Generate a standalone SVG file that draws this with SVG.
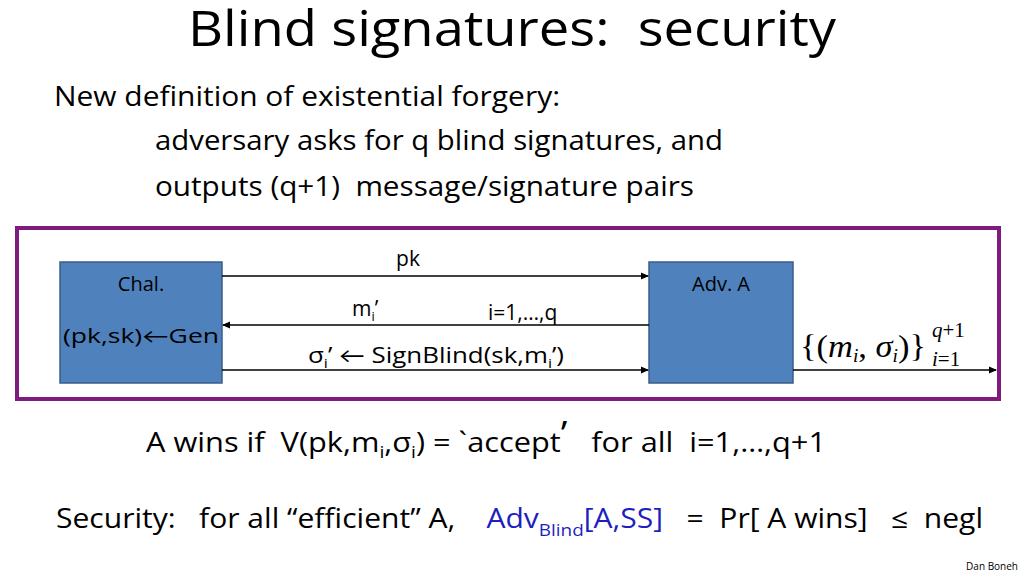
<svg xmlns="http://www.w3.org/2000/svg" width="1024" height="576" viewBox="0 0 1024 576">
<style>
text{font-family:"Open Sans",Lato,"DejaVu Sans",sans-serif;fill:#000;white-space:pre}
.m{font-family:"Liberation Serif","DejaVu Serif",serif;font-style:italic}
.node{fill:#4f81bd;stroke:#385d8a;stroke-width:1.5}
.c line{stroke:#000;stroke-width:1.5;marker-end:url(#ah)}
</style>
<defs><marker id="ah" markerWidth="8" markerHeight="8" refX="7" refY="4" orient="auto" markerUnits="userSpaceOnUse"><path d="M0,0.5 L8,4 L0,7.5z" fill="#000"/></marker></defs>
<rect width="1024" height="576" fill="#fff"/>
<text x="188" y="46" font-size="50" textLength="648" lengthAdjust="spacingAndGlyphs">Blind signatures:  security</text>
<text x="54" y="106" font-size="27" textLength="506" lengthAdjust="spacingAndGlyphs">New definition of existential forgery:</text>
<text x="155" y="150" font-size="27" textLength="568" lengthAdjust="spacingAndGlyphs">adversary asks for q blind signatures, and</text>
<text x="155" y="196" font-size="27" textLength="539" lengthAdjust="spacingAndGlyphs">outputs (q+1)  message/signature pairs</text>
<rect x="17" y="228" width="982" height="171" fill="none" stroke="#7f1a7f" stroke-width="4"/>
<g id="chal"><rect class="node" x="60" y="262" width="162" height="121"/>
<text x="141" y="291" font-size="20" text-anchor="middle">Chal.</text>
<text x="141" y="343" font-size="20" text-anchor="middle" textLength="156" lengthAdjust="spacingAndGlyphs">(pk,sk)←Gen</text></g>
<g id="adv"><rect class="node" x="649" y="262" width="144" height="121"/>
<text x="721" y="291" font-size="20" text-anchor="middle">Adv. A</text></g>
<g class="c">
<line x1="222" y1="276" x2="648" y2="276"/>
<line x1="649" y1="325" x2="223" y2="325"/>
<line x1="222" y1="370" x2="648" y2="370"/>
<line x1="793" y1="370" x2="996" y2="370"/>
</g>
<text x="408" y="266" font-size="21" text-anchor="middle">pk</text>
<text x="352" y="316" font-size="21">m<tspan font-size="13" dy="5">i</tspan><tspan dy="-5">’</tspan></text>
<text x="488" y="320" font-size="21">i=1,…,q</text>
<text x="308" y="363" font-size="21" textLength="256" lengthAdjust="spacingAndGlyphs">σ<tspan font-size="13" dy="5">i</tspan><tspan dy="-5">’ ← SignBlind(sk,m</tspan><tspan font-size="13" dy="5">i</tspan><tspan dy="-5">’)</tspan></text>
<text x="800" y="357" font-size="32" class="m" textLength="126" lengthAdjust="spacingAndGlyphs"><tspan font-style="normal">{(</tspan>m<tspan font-size="18" dy="5">i</tspan><tspan dy="-5" font-style="normal">, </tspan>σ<tspan font-size="18" dy="5">i</tspan><tspan dy="-5" font-style="normal">)}</tspan></text>
<text x="932" y="337" font-size="21" class="m">q<tspan font-style="normal">+1</tspan></text>
<text x="932" y="366" font-size="21" class="m">i<tspan font-style="normal">=1</tspan></text>
<text x="146" y="452" font-size="27" textLength="680" lengthAdjust="spacingAndGlyphs">A wins if  V(pk,m<tspan font-size="17" dy="6">i</tspan><tspan dy="-6">,σ</tspan><tspan font-size="17" dy="6">i</tspan><tspan dy="-6">) = `accept</tspan><tspan font-size="34" dy="-6">’</tspan><tspan dy="6">   for all  i=1,…,q+1</tspan></text>
<text x="56" y="528" font-size="27" textLength="927" lengthAdjust="spacingAndGlyphs">Security:   for all “efficient” A,    <tspan fill="#1f1fbf">Adv<tspan font-size="17" dy="8">Blind</tspan><tspan dy="-8">[A,SS]</tspan></tspan>   =  Pr[ A wins]   ≤  negl</text>
<text x="1018" y="570" font-size="10" text-anchor="end">Dan Boneh</text>
</svg>
